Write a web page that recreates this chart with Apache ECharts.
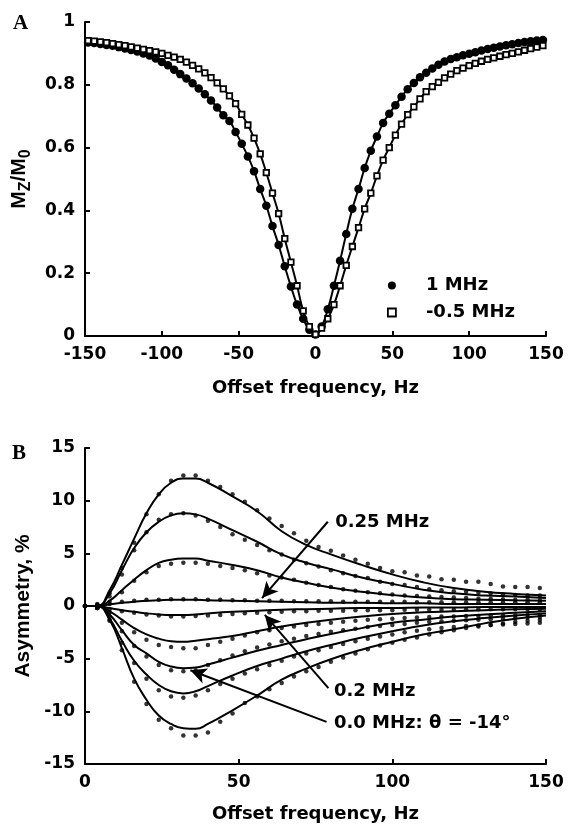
<!DOCTYPE html>
<html><head><meta charset="utf-8">
<script src="https://cdn.jsdelivr.net/npm/echarts@6/dist/echarts.min.js"></script>
<style>html,body{margin:0;padding:0;background:#fff}#c{width:568px;height:826px}</style>
</head><body><div id="c"></div>
<script>
// ---------- Panel A data ----------
const aFreq = [-148,-144,-140,-136,-132,-128,-124,-120,-116,-112,-108,-104,-100,-96,-92,-88,-84,-80,-76,-72,-68,-64,-60,-56,-52,-48,-44,-40,-36,-32,-28,-24,-20,-16,-12,-8,-4,0,4,8,12,16,20,24,28,32,36,40,44,48,52,56,60,64,68,72,76,80,84,88,92,96,100,104,108,112,116,120,124,128,132,136,140,144,148];
const a1MHz = [0.935,0.933,0.930,0.927,0.924,0.920,0.916,0.911,0.906,0.900,0.893,0.884,0.873,0.862,0.848,0.834,0.820,0.805,0.788,0.770,0.750,0.728,0.703,0.685,0.650,0.612,0.572,0.525,0.468,0.415,0.350,0.290,0.222,0.158,0.100,0.055,0.020,0.005,0.030,0.085,0.160,0.240,0.325,0.405,0.468,0.535,0.590,0.635,0.678,0.708,0.735,0.762,0.786,0.806,0.824,0.838,0.852,0.864,0.874,0.882,0.888,0.894,0.899,0.904,0.909,0.914,0.918,0.922,0.926,0.929,0.933,0.936,0.939,0.941,0.943];
const aNeg05MHz = [0.941,0.939,0.937,0.934,0.931,0.928,0.925,0.921,0.917,0.913,0.909,0.905,0.900,0.894,0.888,0.881,0.872,0.862,0.851,0.838,0.823,0.806,0.787,0.765,0.740,0.706,0.672,0.630,0.580,0.520,0.455,0.390,0.310,0.235,0.160,0.080,0.030,0.005,0.025,0.055,0.100,0.160,0.225,0.285,0.345,0.405,0.455,0.510,0.560,0.600,0.640,0.675,0.705,0.730,0.755,0.778,0.794,0.808,0.822,0.834,0.845,0.853,0.861,0.868,0.875,0.881,0.886,0.891,0.896,0.900,0.905,0.910,0.915,0.920,0.925];
const aLegend = ['1 MHz', '-0.5 MHz'];

// ---------- Panel B data ----------
const bDotFreq = [0,4,8,12,16,20,24,28,32,36,40,44,48,52,56,60,64,68,72,76,80,84,88,92,96,100,104,108,112,116,120,124,128,132,136,140,144,148];
const bLineFreq = [0,4,8,12,16,20,24,28,32,36,40,48,56,64,72,80,90,100,110,120,130,140,150];

const bDots1 = [0,0.2,1.2,3.6,6.0,8.7,10.6,11.9,12.4,12.4,11.9,11.3,10.6,9.9,9.1,8.3,7.6,6.9,6.2,5.6,5.25,4.8,4.4,4.0,3.6,3.3,3.2,2.9,2.8,2.55,2.5,2.3,2.3,2.1,1.85,1.8,1.8,1.7];
const bLine1 = [0,0,1.5,3.9,6.4,8.8,10.6,11.7,12.1,12.1,11.7,10.4,9.0,7.1,5.8,4.9,3.9,3.0,2.25,1.7,1.35,1.15,1.0];
const bDots2 = [0,0.1,0.9,3.0,5.3,7.0,8.2,8.7,8.8,8.6,8.1,7.5,6.8,6.3,5.8,5.3,4.9,4.4,4.05,3.75,3.4,3.1,2.85,2.65,2.3,2.1,2.0,1.8,1.6,1.5,1.4,1.35,1.25,1.2,1.1,1.05,1.0,1.0];
const bLine2 = [0,0,1.2,3.4,5.5,7.0,8.0,8.6,8.8,8.7,8.3,7.2,6.1,4.9,4.1,3.5,2.7,2.1,1.55,1.2,1.0,0.9,0.75];
const bDots3 = [0,0.1,0.4,1.3,2.4,3.2,3.8,4.0,4.1,4.1,4.0,3.8,3.6,3.4,3.1,2.9,2.7,2.5,2.2,2.0,1.8,1.6,1.45,1.3,1.2,1.1,1.0,0.95,0.9,0.85,0.8,0.75,0.7,0.7,0.65,0.6,0.6,0.55];
const bLine3 = [0,0,0.5,1.5,2.5,3.4,4.1,4.4,4.5,4.5,4.3,3.9,3.4,2.7,2.2,1.75,1.35,1.05,0.8,0.65,0.6,0.55,0.5];
const bDots4 = [0,0,0.2,0.4,0.5,0.6,0.6,0.65,0.65,0.65,0.6,0.6,0.55,0.55,0.5,0.5,0.5,0.45,0.45,0.45,0.45,0.4,0.4,0.4,0.4,0.4,0.4,0.35,0.35,0.35,0.35,0.35,0.35,0.35,0.35,0.35,0.35,0.35];
const bLine4 = [0,0,0.15,0.3,0.4,0.5,0.55,0.6,0.6,0.6,0.55,0.5,0.45,0.4,0.35,0.3,0.3,0.25,0.25,0.2,0.2,0.2,0.2];
const bDots5 = [0,-0.1,-0.3,-0.5,-0.65,-0.8,-0.9,-1.0,-1.0,-0.95,-0.9,-0.85,-0.75,-0.7,-0.65,-0.6,-0.55,-0.5,-0.5,-0.45,-0.45,-0.45,-0.4,-0.4,-0.4,-0.4,-0.35,-0.35,-0.35,-0.35,-0.35,-0.3,-0.3,-0.3,-0.3,-0.3,-0.3,-0.3];
const bLine5 = [0,0,-0.2,-0.4,-0.55,-0.7,-0.8,-0.85,-0.85,-0.8,-0.7,-0.55,-0.45,-0.35,-0.3,-0.25,-0.2,-0.2,-0.15,-0.15,-0.1,-0.1,-0.1];
const bDots6 = [0,-0.2,-0.6,-1.6,-2.5,-3.2,-3.7,-3.9,-4.0,-4.0,-3.7,-3.4,-3.1,-2.8,-2.5,-2.3,-2.1,-1.95,-1.8,-1.7,-1.6,-1.5,-1.4,-1.3,-1.25,-1.2,-1.15,-1.1,-1.05,-1.0,-1.0,-0.95,-0.95,-0.9,-0.9,-0.9,-0.85,-0.85];
const bLine6 = [0,0,-0.5,-1.3,-2.1,-2.7,-3.1,-3.35,-3.4,-3.3,-3.15,-2.85,-2.4,-1.95,-1.6,-1.3,-1.0,-0.75,-0.6,-0.5,-0.4,-0.3,-0.25];
const bDots7 = [0,-0.2,-1.0,-2.4,-3.8,-4.8,-5.6,-6.1,-6.2,-6.1,-5.6,-5.15,-4.7,-4.3,-3.95,-3.65,-3.35,-3.1,-2.85,-2.65,-2.45,-2.3,-2.15,-2.0,-1.9,-1.8,-1.7,-1.6,-1.5,-1.45,-1.4,-1.35,-1.3,-1.25,-1.2,-1.15,-1.1,-1.05];
const bLine7 = [0,0,-0.8,-2.3,-3.7,-4.5,-5.3,-5.75,-5.9,-5.85,-5.55,-4.9,-4.25,-3.7,-3.15,-2.65,-2.1,-1.6,-1.3,-1.0,-0.8,-0.65,-0.5];
const bDots8 = [0,-0.2,-1.3,-3.5,-5.4,-6.9,-8.0,-8.6,-8.7,-8.5,-8.0,-7.4,-6.9,-6.4,-6.0,-5.6,-5.2,-4.8,-4.5,-4.2,-3.9,-3.6,-3.35,-3.1,-2.9,-2.7,-2.5,-2.35,-2.2,-2.1,-2.0,-1.9,-1.85,-1.8,-1.75,-1.7,-1.65,-1.6];
const bLine8 = [0,0,-1.2,-3.3,-5.2,-6.5,-7.5,-8.1,-8.3,-8.1,-7.6,-6.6,-5.7,-5.0,-4.3,-3.7,-3.0,-2.4,-1.85,-1.45,-1.15,-0.9,-0.7];
const bDots9 = [0,-0.2,-1.4,-4.2,-7.2,-9.3,-10.8,-11.6,-12.3,-12.3,-12.0,-11.0,-10.2,-9.2,-8.6,-7.9,-7.3,-6.7,-6.2,-5.8,-5.3,-4.9,-4.5,-4.1,-3.75,-3.5,-3.2,-3.0,-2.7,-2.5,-2.3,-2.1,-1.95,-1.8,-1.65,-1.5,-1.4,-1.3];
const bLine9 = [0,0,-1.3,-4.0,-6.9,-8.9,-10.4,-11.2,-11.6,-11.65,-11.2,-9.9,-8.5,-7.0,-5.95,-5.05,-4.15,-3.4,-2.7,-2.2,-1.65,-1.2,-0.9];

const bDotSets = [bDots1,bDots2,bDots3,bDots4,bDots5,bDots6,bDots7,bDots8,bDots9];
const bLineSets = [bLine1,bLine2,bLine3,bLine4,bLine5,bLine6,bLine7,bLine8,bLine9];

// annotations (data units of panel B)
const bNoteText = ['0.25 MHz', '0.2 MHz', '0.0 MHz: \u03b8 = -14\u00b0'];
const bNoteAt = [[81.4, 7.9], [81.0, -8.1], [81.0, -11.1]];
const bArrowFrom = [[79.0, 8.0], [79.2, -7.8], [78.6, -11.0]];
const bArrowTo = [[57.6, 0.75], [58.5, -0.85], [34.3, -6.1]];

// ---------- chart ----------
const FONT = 'DejaVu Sans';
const YFONT = 'Liberation Sans';
const zip = (xs, ys) => xs.map((x, i) => [x, ys[i]]);
const axisCommon = {
  axisLine: {show: true, onZero: false, lineStyle: {color: '#000', width: 2}},
  axisTick: {show: true, inside: true, length: 5, lineStyle: {color: '#000', width: 2}},
  axisLabel: {color: '#000', fontSize: 17, fontWeight: 'bold', fontFamily: FONT, margin: 10},
  splitLine: {show: false},
  nameTextStyle: {color: '#000', fontSize: 18, fontWeight: 'bold', fontFamily: FONT}
};

const series = [
  {
    name: aLegend[0], type: 'line', xAxisIndex: 0, yAxisIndex: 0,
    data: zip(aFreq, a1MHz), smooth: true, symbol: 'circle', symbolSize: 8.5,
    itemStyle: {color: '#000'}, lineStyle: {color: '#000', width: 2}, z: 3
  },
  {
    name: aLegend[1], type: 'line', xAxisIndex: 0, yAxisIndex: 0,
    data: zip(aFreq, aNeg05MHz), smooth: true, symbol: 'rect', symbolSize: 5.5,
    itemStyle: {color: '#fff', borderColor: '#000', borderWidth: 1.8}, lineStyle: {color: '#000', width: 2}, z: 4
  }
];
bLineSets.forEach((ys, i) => {
  const s = {
    name: 'fit' + (i + 1), type: 'line', xAxisIndex: 1, yAxisIndex: 1,
    data: zip(bLineFreq, ys), smooth: true, showSymbol: false,
    lineStyle: {color: '#000', width: 2}, z: 2
  };
  if (i === 0) {
    s.markLine = {
      silent: true, symbol: ['none', 'arrow'], symbolSize: [12, 16],
      lineStyle: {color: '#000', width: 2, type: 'solid'}, label: {show: false},
      data: bArrowFrom.map((f, k) => [{coord: f}, {coord: bArrowTo[k]}])
    };
  }
  series.push(s);
});
bDotSets.forEach((ys, i) => {
  series.push({
    name: 'data' + (i + 1), type: 'scatter', xAxisIndex: 1, yAxisIndex: 1,
    data: zip(bDotFreq, ys), symbol: 'circle', symbolSize: 4.5,
    itemStyle: {color: '#000'}, z: 3
  });
});

const chart = echarts.init(document.getElementById('c'), null, {renderer: 'canvas'});
chart.setOption({
  animation: false,
  backgroundColor: '#fff',
  grid: [
    {left: 85, top: 22, width: 461, height: 314, outerBoundsMode: 'none', containLabel: false},
    {left: 85, top: 448, width: 461, height: 316, outerBoundsMode: 'none', containLabel: false}
  ],
  xAxis: [
    Object.assign({}, axisCommon, {type: 'value', gridIndex: 0, min: -150, max: 150, interval: 50,
      name: 'Offset frequency, Hz', nameLocation: 'middle', nameGap: 43, nameMoveOverlap: false}),
    Object.assign({}, axisCommon, {type: 'value', gridIndex: 1, min: 0, max: 150, interval: 50,
      name: 'Offset frequency, Hz', nameLocation: 'middle', nameGap: 41, nameMoveOverlap: false})
  ],
  yAxis: [
    Object.assign({}, axisCommon, {type: 'value', gridIndex: 0, min: 0, max: 1, interval: 0.2,
      name: '{m|M}{s|Z}{m|/M}{s|0}', nameLocation: 'middle', nameGap: 41,
      nameTextStyle: {color: '#000', rich: {
        m: {fontSize: 21, fontWeight: 'bold', fontFamily: YFONT, color: '#000'},
        s: {fontSize: 16, fontWeight: 'bold', fontFamily: YFONT, color: '#000', padding: [13, 0, 0, 0]}
      }}}),
    Object.assign({}, axisCommon, {type: 'value', gridIndex: 1, min: -15, max: 15, interval: 5,
      name: 'Asymmetry, %', nameLocation: 'middle', nameGap: 41,
      nameTextStyle: {color: '#000', fontSize: 21, fontWeight: 'bold', fontFamily: YFONT}})
  ],
  legend: {
    show: true, orient: 'vertical', left: 387, top: 276, padding: 0, itemGap: 8,
    itemWidth: 8, itemHeight: 8, selectedMode: false,
    textStyle: {color: '#000', fontSize: 18, fontWeight: 'bold', fontFamily: FONT, lineHeight: 19, padding: [0, 0, 0, 25]},
    data: [
      {name: aLegend[0], icon: 'circle', itemStyle: {color: '#000', borderWidth: 0}},
      {name: aLegend[1], icon: 'path://M0,0L10,0L10,10L0,10Z', itemStyle: {color: '#fff', borderColor: '#000', borderWidth: 1.8}}
    ]
  },
  series: series
});

// annotation texts and panel letters, positioned through the chart's scales
const g = [
  {type: 'text', left: 13, top: 13, style: {text: 'A', font: 'bold 21px "Liberation Serif"', fill: '#000'}},
  {type: 'text', left: 12, top: 443, style: {text: 'B', font: 'bold 21px "Liberation Serif"', fill: '#000'}}
];
bNoteText.forEach((t, i) => {
  const p = chart.convertToPixel({gridIndex: 1}, bNoteAt[i]);
  g.push({type: 'text', x: p[0], y: p[1], style: {text: t, font: 'bold 18px "DejaVu Sans"', fill: '#000', verticalAlign: 'middle'}});
});
chart.setOption({graphic: g});
</script>
</body></html>
